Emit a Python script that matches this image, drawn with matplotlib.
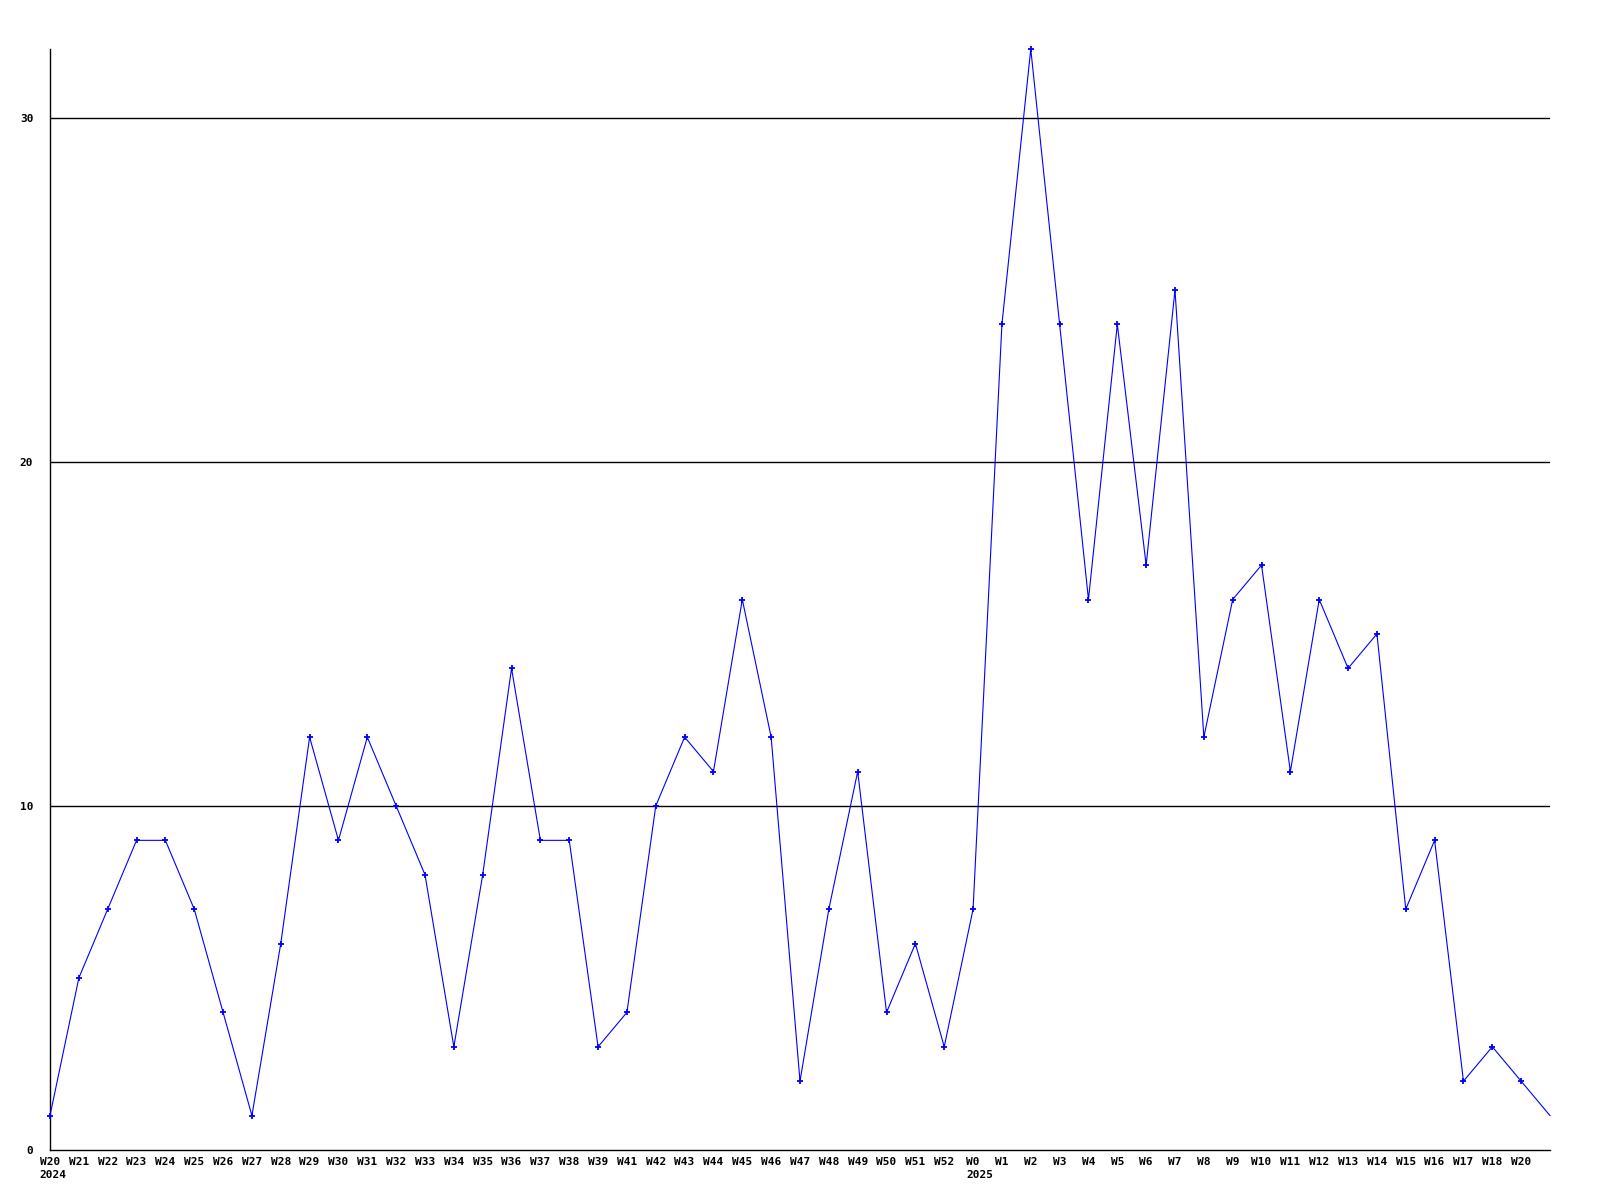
import matplotlib
matplotlib.use("Agg")
import matplotlib.pyplot as plt
import matplotlib.transforms as mtransforms

weeks = ["W20", "W21", "W22", "W23", "W24", "W25", "W26", "W27", "W28", "W29",
         "W30", "W31", "W32", "W33", "W34", "W35", "W36", "W37", "W38", "W39",
         "W41", "W42", "W43", "W44", "W45", "W46", "W47", "W48", "W49", "W50",
         "W51", "W52", "W0", "W1", "W2", "W3", "W4", "W5", "W6", "W7",
         "W8", "W9", "W10", "W11", "W12", "W13", "W14", "W15", "W16", "W17",
         "W18", "W20", ""]
values = [1, 5, 7, 9, 9, 7, 4, 1, 6, 12,
          9, 12, 10, 8, 3, 8, 14, 9, 9, 3,
          4, 10, 12, 11, 16, 12, 2, 7, 11, 4,
          6, 3, 7, 24, 32, 24, 16, 24, 17, 25,
          12, 16, 17, 11, 16, 14, 15, 7, 9, 2,
          3, 2, 1]
year_labels = [("2024", 0, 3), ("2025", 32, 2)]
y_ticks = [0, 10, 20, 30]

font = dict(family="DejaVu Sans Mono", weight="bold", size=8)

fig = plt.figure(figsize=(16, 12), dpi=100)
ax = fig.add_axes([50/1600, 50/1200, 1500/1600, 1101/1200])

x = list(range(len(values)))
ax.plot(x, values, color="#0000ff", lw=0.8, marker="+", markersize=4,
        markeredgewidth=1.3, markevery=list(range(len(values) - 1)), zorder=3,
        clip_on=False)

ax.set_xlim(0, len(values) - 1)
ax.set_ylim(0, 32)
for yv in y_ticks[1:]:
    ax.axhline(yv, color="black", lw=1, zorder=1)

ax.set_xticks(x[:-1])
ax.set_xticklabels(weeks[:-1], **font)
ax.set_yticks(y_ticks)
ax.set_yticklabels([str(v) for v in y_ticks], **font)
ax.tick_params(axis="both", length=0)
ax.tick_params(axis="x", pad=5)
ax.tick_params(axis="y", pad=12)

for side in ["top", "right"]:
    ax.spines[side].set_visible(False)
for side in ["left", "bottom"]:
    ax.spines[side].set_color("black")
    ax.spines[side].set_linewidth(1)

trans = mtransforms.blended_transform_factory(ax.transData, ax.transAxes)
for text, idx, nchar in year_labels:
    ax.annotate(text, xy=(idx, 0), xycoords=trans, xytext=(-nchar * 3.4, -20),
                textcoords="offset pixels", ha="left", va="top", **font)

fig.savefig("out.png", dpi=100)
